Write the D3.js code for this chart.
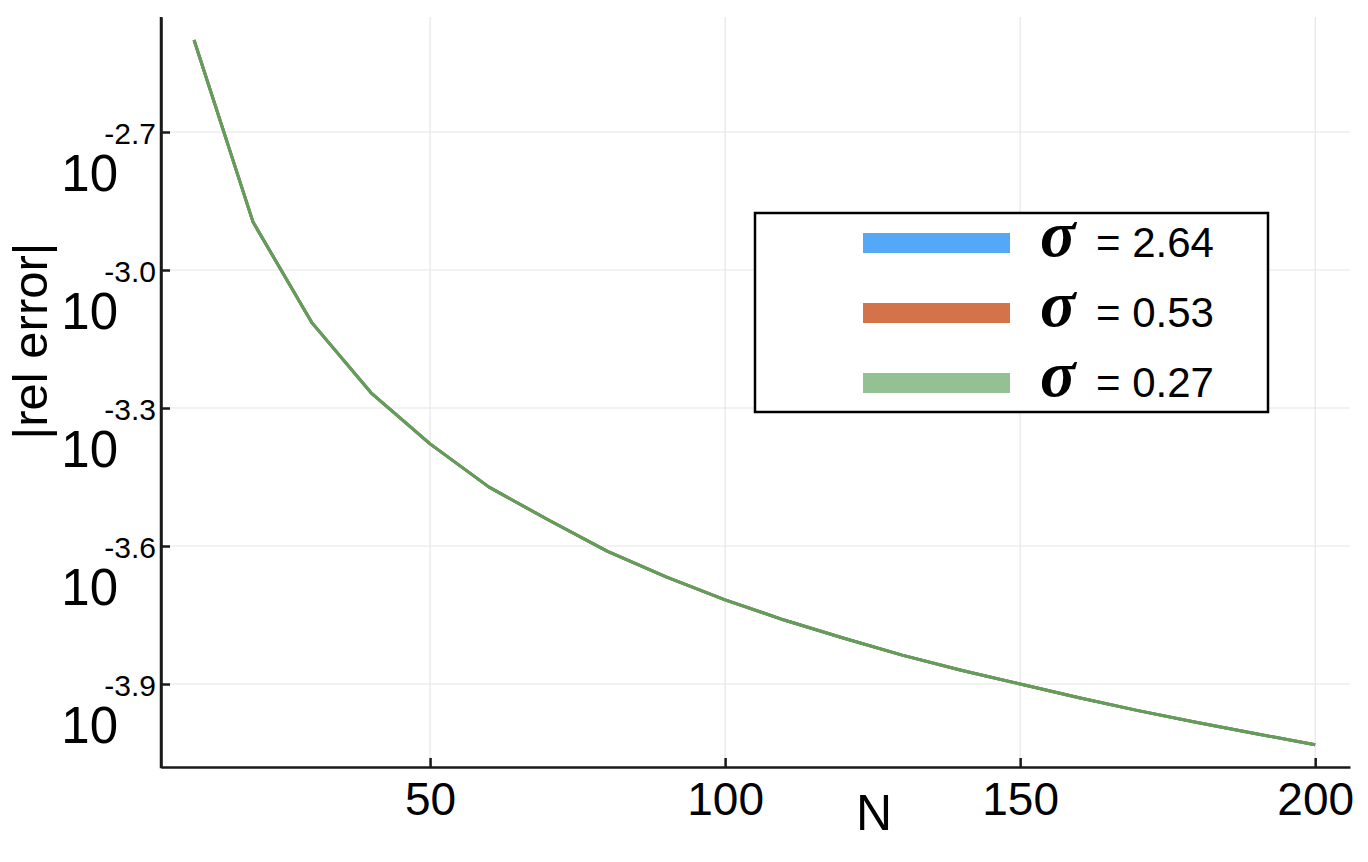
<!DOCTYPE html>
<html>
<head>
<meta charset="utf-8">
<script src="https://cdn.jsdelivr.net/npm/d3@7"></script>
<style>
  html, body { margin: 0; padding: 0; background: #fff; }
  svg { display: block; font-family: "Liberation Sans", Arial, sans-serif; }
</style>
</head>
<body>
<svg id="chart" width="1368" height="862"></svg>
<script>
// ---- data ----
const N = [10, 20, 30, 40, 50, 60, 70, 80, 90, 100, 110, 120, 130, 140, 150, 160, 170, 180, 190, 200];
const err_sigma264 = [3.162e-3, 1.271e-3, 7.674e-4, 5.408e-4, 4.188e-4, 3.373e-4, 2.864e-4, 2.449e-4, 2.153e-4, 1.919e-4,
                      1.734e-4, 1.585e-4, 1.455e-4, 1.349e-4, 1.259e-4, 1.175e-4, 1.102e-4, 1.038e-4, 9.817e-5, 9.290e-5];
const err_sigma053 = [3.162e-3, 1.271e-3, 7.674e-4, 5.408e-4, 4.188e-4, 3.373e-4, 2.864e-4, 2.449e-4, 2.153e-4, 1.919e-4,
                      1.734e-4, 1.585e-4, 1.455e-4, 1.349e-4, 1.259e-4, 1.175e-4, 1.102e-4, 1.038e-4, 9.817e-5, 9.290e-5];
const err_sigma027 = [3.162e-3, 1.271e-3, 7.674e-4, 5.408e-4, 4.188e-4, 3.373e-4, 2.864e-4, 2.449e-4, 2.153e-4, 1.919e-4,
                      1.734e-4, 1.585e-4, 1.455e-4, 1.349e-4, 1.259e-4, 1.175e-4, 1.102e-4, 1.038e-4, 9.817e-5, 9.290e-5];
const seriesLabels = ["2.64", "0.53", "0.27"];
const xTicks = [50, 100, 150, 200];
const yTickExponents = [-2.7, -3.0, -3.3, -3.6, -3.9];
const yTickLabels = ["-2.7", "-3.0", "-3.3", "-3.6", "-3.9"];

// ---- layout / styles ----
const svg = d3.select("#chart");
const L = 161, R = 1350, T = 17, B = 767;
const legendColors = ["#55a8f5", "#d4724a", "#94c194"];
const lineColors = ["#3f9ae8", "#c9653c", "#5f9f58"];

const x = d3.scaleLinear().domain([4.4, 205.9]).range([L, R]);
const y = d3.scaleLog().domain([Math.pow(10, -4.0804), Math.pow(10, -2.45)]).range([B, T]);
const yTickVals = yTickExponents.map(e => Math.pow(10, e));

// grid
const grid = svg.append("g");
grid.selectAll("line.gx").data(xTicks).join("line")
  .attr("x1", d => x(d)).attr("x2", d => x(d)).attr("y1", T).attr("y2", B)
  .attr("stroke", "#e6e6e6").attr("stroke-width", 1.2);
grid.selectAll("line.gy").data(yTickVals).join("line")
  .attr("x1", L).attr("x2", R).attr("y1", d => y(d)).attr("y2", d => y(d))
  .attr("stroke", "#e6e6e6").attr("stroke-width", 1.2);

// lines
const series = [err_sigma264, err_sigma053, err_sigma027];
const line = d3.line().x(d => x(d[0])).y(d => y(d[1]));
series.forEach((s, i) => {
  svg.append("path")
    .datum(N.map((n, j) => [n, s[j]]))
    .attr("fill", "none")
    .attr("stroke", lineColors[i])
    .attr("stroke-width", 3)
    .attr("stroke-linejoin", "round")
    .attr("d", line);
});

// x axis
const xAxis = svg.append("g").attr("transform", `translate(0,${B})`)
  .call(d3.axisBottom(x).tickValues(xTicks).tickSizeInner(-9).tickSizeOuter(0).tickPadding(0).tickFormat(d3.format("d")));
xAxis.select(".domain").attr("stroke", "#1a1a1a").attr("stroke-width", 2.5);
xAxis.selectAll(".tick line").attr("stroke", "#1a1a1a").attr("stroke-width", 2.5);
xAxis.selectAll(".tick text")
  .attr("y", 48).attr("dy", null)
  .attr("font-size", 46).attr("fill", "#000")
  .attr("font-family", "Liberation Sans, Arial, sans-serif");

// y axis
const yAxis = svg.append("g").attr("transform", `translate(${L},0)`)
  .call(d3.axisLeft(y).tickValues(yTickVals).tickSizeInner(-9).tickSizeOuter(0).tickFormat(() => ""));
yAxis.select(".domain").attr("stroke", "#1a1a1a").attr("stroke-width", 2.5);
yAxis.selectAll(".tick line").attr("stroke", "#1a1a1a").attr("stroke-width", 2.5);
yAxis.selectAll(".tick text").remove();
yAxis.selectAll(".tick").each(function(d, i) {
  const g = d3.select(this);
  g.append("text").text("10")
    .attr("x", -43).attr("y", 58)
    .attr("text-anchor", "end")
    .attr("font-size", 51).attr("fill", "#000");
  g.append("text").text(yTickLabels[i])
    .attr("x", -5).attr("y", 11)
    .attr("text-anchor", "end")
    .attr("font-size", 30).attr("fill", "#000");
});
svg.append("line").attr("x1", L).attr("x2", L).attr("y1", T).attr("y2", B + 1.2)
  .attr("stroke", "#1a1a1a").attr("stroke-width", 2.5);

// axis titles
svg.append("text").text("N")
  .attr("x", 874).attr("y", 830).attr("text-anchor", "middle")
  .attr("font-size", 50).attr("fill", "#000");
svg.append("text").text("|rel error|")
  .attr("transform", "translate(47,341) rotate(-90)")
  .attr("text-anchor", "middle")
  .attr("font-size", 49).attr("fill", "#000");

// legend
const lg = svg.append("g");
lg.append("rect").attr("x", 755).attr("y", 213).attr("width", 513).attr("height", 199)
  .attr("fill", "#fff").attr("stroke", "#000").attr("stroke-width", 2.5);
seriesLabels.forEach((lab, i) => {
  const cy = 243 + i * 70;
  lg.append("line").attr("x1", 863).attr("x2", 1010).attr("y1", cy).attr("y2", cy)
    .attr("stroke", legendColors[i]).attr("stroke-width", 20);
  lg.append("text").text("σ")
    .attr("x", 1040).attr("y", cy + 13)
    .attr("font-family", "Liberation Serif, Times New Roman, serif")
    .attr("font-style", "italic").attr("font-weight", "bold")
    .attr("font-size", 66).attr("fill", "#000");
  lg.append("text").text("= " + lab)
    .attr("x", 1096).attr("y", cy + 14)
    .attr("font-size", 42).attr("fill", "#000");
});
</script>
</body>
</html>
